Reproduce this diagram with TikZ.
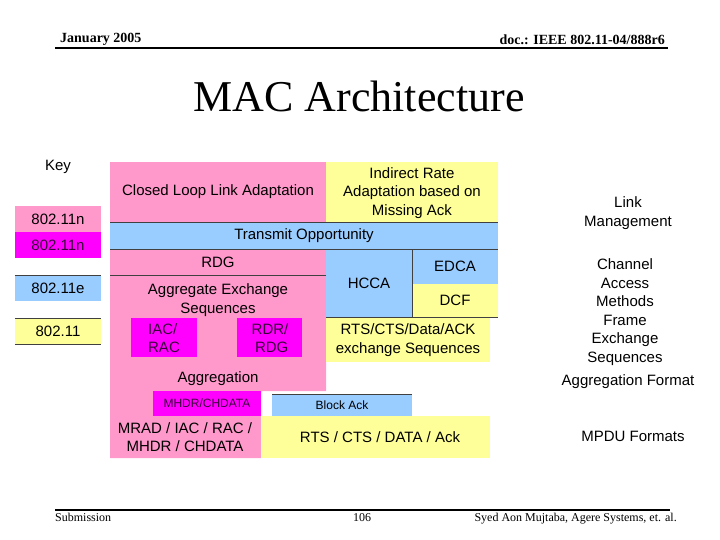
\documentclass[tikz,border=0pt]{standalone}
\usepackage{fontspec}
\setmainfont{Liberation Serif}
\newfontfamily\arialfont{Liberation Sans}

\definecolor{pinkn}{HTML}{FF99CC}
\definecolor{magn}{HTML}{FF00FF}
\definecolor{bluee}{HTML}{99CCFF}
\definecolor{yellowb}{HTML}{FFFF99}
\definecolor{magtext}{HTML}{3A003A}

\def\lblsize{\fontsize{15}{18.5}\selectfont}
\def\smallsize{\fontsize{12}{14}\selectfont}

\begin{document}
\begin{tikzpicture}[x=1pt,y=-1pt]
    \tikzstyle{lbl}=[font=\arialfont\lblsize, align=center, inner sep=0pt]
    \tikzstyle{smalllbl}=[font=\arialfont\smallsize, inner sep=0pt]
    \tikzstyle{keybox}=[lbl, minimum width=86pt, minimum height=26pt]
    \tikzstyle{rule}=[draw=black!75, line width=0.6pt]
    \tikzstyle{slide}=[inner sep=0pt, anchor=base]

    \useasboundingbox (0,0) rectangle (720,540);

    % Header and footer of the slide
    \node[slide, anchor=base west, font=\bfseries\fontsize{14}{16}\selectfont] (date) at (60,43) {January 2005};
    \node[slide, anchor=base east, font=\bfseries\fontsize{14}{16}\selectfont] (doc) at (665,45) {doc.: IEEE 802.11-04/888r6};
    \draw[line width=2pt] (55,48) -- (668,48);
    \node[slide, font=\fontsize{44}{48}\selectfont] (title) at (359,112) {MAC Architecture};
    \draw[line width=2pt] (55,510) -- (670,510);
    \node[slide, anchor=base west, font=\fontsize{12}{14}\selectfont] (sub) at (55,521) {Submission};
    \node[slide, font=\fontsize{12}{14}\selectfont] (page) at (362,521) {106};
    \node[slide, anchor=base east, font=\fontsize{12}{14}\selectfont] (auth) at (677,521) {Syed Aon Mujtaba, Agere Systems, et. al.};

    % Draw the key
    \node[lbl] (key) at (58,167) {Key};
    \node[keybox, fill=pinkn] (K-n) at (58,219) {802.11n};
    \node[keybox, fill=magn, text=magtext] (K-m) at (58,245) {802.11n};
    \node[keybox, fill=bluee] (K-e) at (58,288) {802.11e};
    \node[keybox, fill=yellowb] (K-b) at (58,331) {802.11};
    \draw[rule] (K-e.north west) -- (K-e.north east);
    \draw[rule] (K-b.north west) -- (K-b.north east);
    \draw[rule] (K-b.south west) -- (K-b.south east);

    % Draw the coloured areas
    \fill[pinkn] (110,162) rectangle (326,222);
    \fill[yellowb] (326,162) rectangle (498,222);
    \fill[bluee] (110,222) rectangle (498,249);
    \fill[pinkn] (110,249) -- (326,249) -- (326,391) -- (261,391) -- (261,458) -- (110,458) -- cycle;
    \fill[bluee] (326,249) rectangle (412,317);
    \fill[bluee] (412,249) rectangle (498,284);
    \fill[yellowb] (412,284) rectangle (498,317);
    \fill[yellowb] (326,317) rectangle (490,362);
    \fill[magn] (131,318) rectangle (197,357);
    \fill[magn] (237,318) rectangle (302,357);
    \fill[magn] (153,391) rectangle (261,416);
    \fill[bluee] (272,394) rectangle (412,416);
    \fill[yellowb] (261,416) rectangle (490,458);

    % Dividing lines
    \draw[rule] (110,222) -- (498,222) (110,249) -- (498,249);
    \draw[rule] (110,275) -- (326,275);
    \draw[rule] (412,249) -- (412,317);
    \draw[rule] (326,317) -- (498,317);
    \draw[rule] (272,394) -- (412,394);

    % Label the blocks
    \node[lbl] (clla) at (218,192) {Closed Loop Link Adaptation};
    \node[lbl] (ira) at (412,193) {Indirect Rate\\Adaptation based on\\Missing Ack};
    \node[lbl] (txop) at (304,236) {Transmit Opportunity};
    \node[lbl] (rdg) at (218,262) {RDG};
    \node[lbl] (aes) at (218,300) {Aggregate Exchange\\Sequences};
    \node[lbl] (hcca) at (369,283) {HCCA};
    \node[lbl] (edca) at (455,266) {EDCA};
    \node[lbl] (dcf) at (455,300) {DCF};
    \node[lbl] (rcda) at (408,340) {RTS/CTS/Data/ACK\\exchange Sequences};
    \node[lbl, align=left, text=magtext] (iac) at (164,338) {IAC/\\RAC};
    \node[lbl, align=right, text=magtext] (rdr) at (270,338) {RDR/\\RDG};
    \node[lbl] (aggr) at (218,379) {Aggregation};
    \node[smalllbl, text=magtext] (mhdr) at (207,403) {MHDR/CHDATA};
    \node[smalllbl] (back) at (342,405) {Block Ack};
    \node[lbl] (mrad) at (185,437) {MRAD / IAC / RAC /\\MHDR / CHDATA};
    \node[lbl] (rcdk) at (380,437) {RTS / CTS / DATA / Ack};

    % Annotate the layers
    \node[lbl] (lm) at (628,213) {Link\\Management};
    \node[lbl] (cam) at (625,312) {Channel\\Access\\Methods\\Frame\\Exchange\\Sequences};
    \node[lbl] (af) at (628,382) {Aggregation Format};
    \node[lbl] (mpdu) at (633,436) {MPDU Formats};
\end{tikzpicture}
\end{document}
